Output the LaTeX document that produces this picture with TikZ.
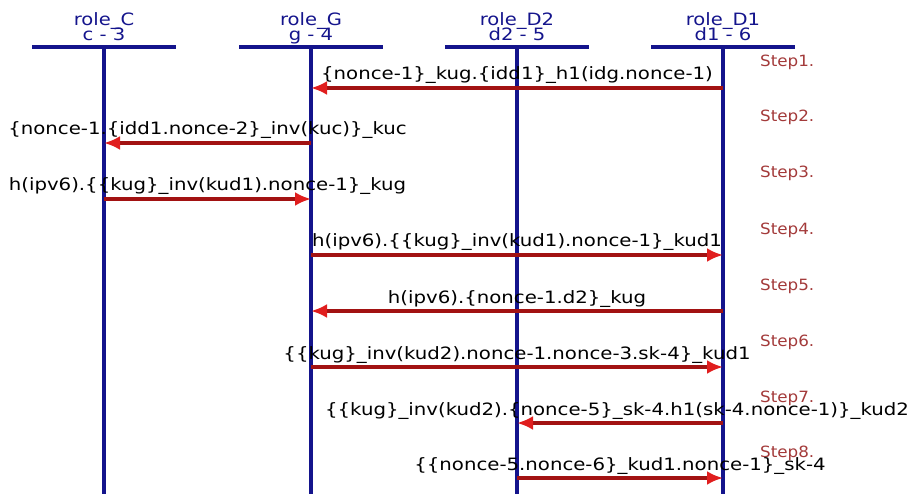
\documentclass[tikz,border=0pt]{standalone}
\usepackage{fontspec}
\setmainfont{DejaVu Sans}[FakeStretch=1.16]
\newfontfamily\rolef{DejaVu Sans}[FakeStretch=1.15]
\newfontfamily\stepf{DejaVu Sans}[FakeStretch=1.08]
\usetikzlibrary{arrows.meta,calc}
\definecolor{lifeblue}{HTML}{14148C}
\definecolor{msgred}{HTML}{A21212}
\definecolor{tipred}{HTML}{E01E1E}
\definecolor{stepred}{HTML}{A33A3A}
\begin{document}
\begin{tikzpicture}[x=1pt,y=-1pt,
  lifeline/.style={draw=lifeblue,line width=4pt},
  bar/.style={draw=lifeblue,line width=4.5pt},
  rolename/.style={text=lifeblue,font=\rolef\fontsize{17}{17}\selectfont,inner sep=0pt,anchor=base},
  msg/.style={draw=msgred,line width=4.5pt,-{Latex[length=16pt,width=14pt,color=tipred]}},
  msgtext/.style={font=\fontsize{17}{17}\selectfont,inner sep=0pt,anchor=base},
  steplbl/.style={text=stepred,font=\stepf\fontsize{15.5}{15.5}\selectfont,inner sep=0pt,anchor=base west}]
\useasboundingbox (0,0) rectangle (909,494);
% headers
\foreach \n/\x/\t/\s in {C/104/role\_C/c - 3, G/311/role\_G/g - 4, D/517/role\_D2/d2 - 5, E/723/role\_D1/d1 - 6}{
  \node[rolename] (t\n) at (\x,26) {\t};
  \node[rolename] (s\n) at (\x,41) {\s};
  \coordinate (top\n) at (\x,47);
  \coordinate (bot\n) at (\x,494);
  \draw[bar] (\x-72,47) -- (\x+72,47);
  \draw[lifeline] (top\n) -- (bot\n);
}
% message endpoints
\foreach \i/\y in {1/88,2/143,3/199,4/255,5/311,6/367,7/423,8/478}{
  \coordinate (C\i) at (104,\y);
  \coordinate (G\i) at (311,\y);
  \coordinate (D\i) at (517,\y);
  \coordinate (E\i) at (723,\y);
  \node[steplbl] (step\i) at (760,\y-21) {Step\i.};
}
\draw[msg] (E1) -- (G1);
\node[msgtext] (m1) at ($(E1)!0.5!(G1)+(0,-8)$) {\{nonce-1\}\_kug.\{idd1\}\_h1(idg.nonce-1)};
\draw[msg] (G2) -- (C2);
\node[msgtext] (m2) at ($(G2)!0.5!(C2)+(0,-8)$) {\{nonce-1.\{idd1.nonce-2\}\_inv(kuc)\}\_kuc};
\draw[msg] (C3) -- (G3);
\node[msgtext] (m3) at ($(C3)!0.5!(G3)+(0,-8)$) {h(ipv6).\{\{kug\}\_inv(kud1).nonce-1\}\_kug};
\draw[msg] (G4) -- (E4);
\node[msgtext] (m4) at ($(G4)!0.5!(E4)+(0,-8)$) {h(ipv6).\{\{kug\}\_inv(kud1).nonce-1\}\_kud1};
\draw[msg] (E5) -- (G5);
\node[msgtext] (m5) at ($(E5)!0.5!(G5)+(0,-8)$) {h(ipv6).\{nonce-1.d2\}\_kug};
\draw[msg] (G6) -- (E6);
\node[msgtext] (m6) at ($(G6)!0.5!(E6)+(0,-8)$) {\{\{kug\}\_inv(kud2).nonce-1.nonce-3.sk-4\}\_kud1};
\draw[msg] (E7) -- (D7);
\node[msgtext] (m7) at ($(E7)!0.5!(D7)+(-3,-8)$) {\{\{kug\}\_inv(kud2).\{nonce-5\}\_sk-4.h1(sk-4.nonce-1)\}\_kud2};
\draw[msg] (D8) -- (E8);
\node[msgtext] (m8) at ($(D8)!0.5!(E8)+(0,-8)$) {\{\{nonce-5.nonce-6\}\_kud1.nonce-1\}\_sk-4};
\end{tikzpicture}
\end{document}
